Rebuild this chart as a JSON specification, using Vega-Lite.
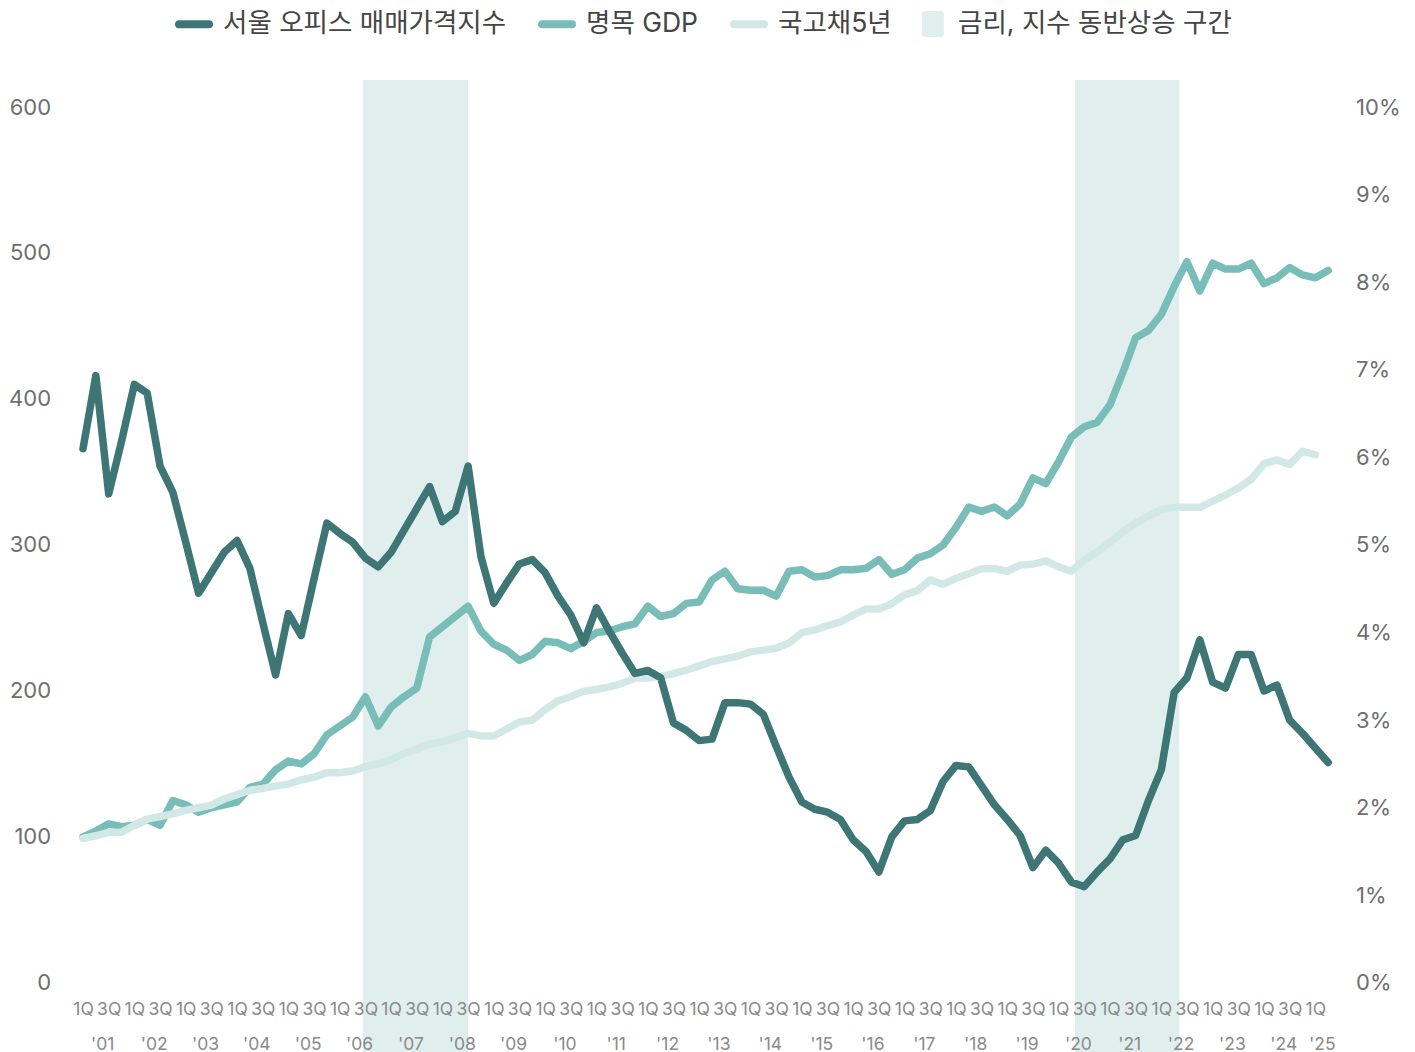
{
  "$schema": "https://vega.github.io/schema/vega-lite/v6.json",
  "autosize": {"type": "none"},
  "padding": {"left": 76.6, "top": 80, "right": 80.4, "bottom": 0},
  "width": 1258,
  "height": 972,
  "background": "#ffffff",
  "config": {
    "view": {"stroke": null},
    "font": "Inter, 'Noto Sans CJK KR', sans-serif",
    "axis": {"labelFont": "Inter, 'Noto Sans CJK KR', sans-serif", "grid": false, "ticks": false, "domain": false, "title": null},
    "legend": {"labelFont": "Inter, 'Noto Sans CJK KR', sans-serif"}
  },
  "datasets": {
    "bands": [
      {"start": 2006.45, "end": 2008.5},
      {"start": 2020.32, "end": 2022.35}
    ],
    "series": [
      {"t": 2001.00, "office": 366, "gdp": 100, "bond": 1.65},
      {"t": 2001.25, "office": 416, "gdp": 104, "bond": 1.68},
      {"t": 2001.50, "office": 335, "gdp": 109, "bond": 1.72},
      {"t": 2001.75, "office": 371, "gdp": 107, "bond": 1.72},
      {"t": 2002.00, "office": 410, "gdp": 108, "bond": 1.80},
      {"t": 2002.25, "office": 404, "gdp": 112, "bond": 1.87},
      {"t": 2002.50, "office": 354, "gdp": 108, "bond": 1.90},
      {"t": 2002.75, "office": 336, "gdp": 125, "bond": 1.93},
      {"t": 2003.00, "office": 302, "gdp": 122, "bond": 1.97},
      {"t": 2003.25, "office": 267, "gdp": 117, "bond": 2.00},
      {"t": 2003.50, "office": 281, "gdp": 120, "bond": 2.03},
      {"t": 2003.75, "office": 295, "gdp": 122, "bond": 2.10},
      {"t": 2004.00, "office": 303, "gdp": 124, "bond": 2.15},
      {"t": 2004.25, "office": 284, "gdp": 134, "bond": 2.20},
      {"t": 2004.50, "office": 247, "gdp": 136, "bond": 2.22},
      {"t": 2004.75, "office": 211, "gdp": 146, "bond": 2.25},
      {"t": 2005.00, "office": 253, "gdp": 152, "bond": 2.27},
      {"t": 2005.25, "office": 238, "gdp": 150, "bond": 2.32},
      {"t": 2005.50, "office": 277, "gdp": 157, "bond": 2.35},
      {"t": 2005.75, "office": 315, "gdp": 170, "bond": 2.40},
      {"t": 2006.00, "office": 308, "gdp": 176, "bond": 2.40},
      {"t": 2006.25, "office": 302, "gdp": 182, "bond": 2.42},
      {"t": 2006.50, "office": 291, "gdp": 196, "bond": 2.47},
      {"t": 2006.75, "office": 285, "gdp": 176, "bond": 2.50},
      {"t": 2007.00, "office": 295, "gdp": 189, "bond": 2.55},
      {"t": 2007.25, "office": 310, "gdp": 196, "bond": 2.62},
      {"t": 2007.50, "office": 325, "gdp": 202, "bond": 2.67},
      {"t": 2007.75, "office": 340, "gdp": 237, "bond": 2.73},
      {"t": 2008.00, "office": 316, "gdp": 244, "bond": 2.75},
      {"t": 2008.25, "office": 323, "gdp": 251, "bond": 2.80},
      {"t": 2008.50, "office": 354, "gdp": 258, "bond": 2.85},
      {"t": 2008.75, "office": 292, "gdp": 241, "bond": 2.82},
      {"t": 2009.00, "office": 260, "gdp": 232, "bond": 2.82},
      {"t": 2009.25, "office": 274, "gdp": 228, "bond": 2.90},
      {"t": 2009.50, "office": 287, "gdp": 221, "bond": 2.98},
      {"t": 2009.75, "office": 290, "gdp": 225, "bond": 3.00},
      {"t": 2010.00, "office": 281, "gdp": 234, "bond": 3.12},
      {"t": 2010.25, "office": 265, "gdp": 233, "bond": 3.22},
      {"t": 2010.50, "office": 252, "gdp": 229, "bond": 3.27},
      {"t": 2010.75, "office": 233, "gdp": 234, "bond": 3.33},
      {"t": 2011.00, "office": 257, "gdp": 240, "bond": 3.35},
      {"t": 2011.25, "office": 241, "gdp": 241, "bond": 3.38},
      {"t": 2011.50, "office": 226, "gdp": 244, "bond": 3.42},
      {"t": 2011.75, "office": 212, "gdp": 246, "bond": 3.48},
      {"t": 2012.00, "office": 214, "gdp": 258, "bond": 3.48},
      {"t": 2012.25, "office": 209, "gdp": 251, "bond": 3.50},
      {"t": 2012.50, "office": 178, "gdp": 253, "bond": 3.53},
      {"t": 2012.75, "office": 173, "gdp": 260, "bond": 3.57},
      {"t": 2013.00, "office": 166, "gdp": 261, "bond": 3.62},
      {"t": 2013.25, "office": 167, "gdp": 276, "bond": 3.67},
      {"t": 2013.50, "office": 192, "gdp": 282, "bond": 3.70},
      {"t": 2013.75, "office": 192, "gdp": 270, "bond": 3.73},
      {"t": 2014.00, "office": 191, "gdp": 269, "bond": 3.78},
      {"t": 2014.25, "office": 184, "gdp": 269, "bond": 3.80},
      {"t": 2014.50, "office": 162, "gdp": 265, "bond": 3.82},
      {"t": 2014.75, "office": 141, "gdp": 282, "bond": 3.88},
      {"t": 2015.00, "office": 124, "gdp": 283, "bond": 4.00},
      {"t": 2015.25, "office": 119, "gdp": 278, "bond": 4.03},
      {"t": 2015.50, "office": 117, "gdp": 279, "bond": 4.08},
      {"t": 2015.75, "office": 112, "gdp": 283, "bond": 4.12},
      {"t": 2016.00, "office": 98, "gdp": 283, "bond": 4.20},
      {"t": 2016.25, "office": 90, "gdp": 284, "bond": 4.27},
      {"t": 2016.50, "office": 76, "gdp": 290, "bond": 4.27},
      {"t": 2016.75, "office": 100, "gdp": 280, "bond": 4.33},
      {"t": 2017.00, "office": 111, "gdp": 283, "bond": 4.43},
      {"t": 2017.25, "office": 112, "gdp": 291, "bond": 4.48},
      {"t": 2017.50, "office": 118, "gdp": 294, "bond": 4.60},
      {"t": 2017.75, "office": 138, "gdp": 300, "bond": 4.55},
      {"t": 2018.00, "office": 149, "gdp": 312, "bond": 4.62},
      {"t": 2018.25, "office": 148, "gdp": 326, "bond": 4.67},
      {"t": 2018.50, "office": 135, "gdp": 323, "bond": 4.73},
      {"t": 2018.75, "office": 122, "gdp": 326, "bond": 4.73},
      {"t": 2019.00, "office": 112, "gdp": 320, "bond": 4.70},
      {"t": 2019.25, "office": 101, "gdp": 328, "bond": 4.77},
      {"t": 2019.50, "office": 79, "gdp": 346, "bond": 4.78},
      {"t": 2019.75, "office": 91, "gdp": 342, "bond": 4.82},
      {"t": 2020.00, "office": 82, "gdp": 357, "bond": 4.75},
      {"t": 2020.25, "office": 69, "gdp": 374, "bond": 4.70},
      {"t": 2020.50, "office": 66, "gdp": 381, "bond": 4.83},
      {"t": 2020.75, "office": 76, "gdp": 384, "bond": 4.92},
      {"t": 2021.00, "office": 85, "gdp": 396, "bond": 5.03},
      {"t": 2021.25, "office": 98, "gdp": 418, "bond": 5.15},
      {"t": 2021.50, "office": 101, "gdp": 442, "bond": 5.25},
      {"t": 2021.75, "office": 125, "gdp": 447, "bond": 5.33},
      {"t": 2022.00, "office": 146, "gdp": 458, "bond": 5.40},
      {"t": 2022.25, "office": 199, "gdp": 477, "bond": 5.43},
      {"t": 2022.50, "office": 209, "gdp": 494, "bond": 5.43},
      {"t": 2022.75, "office": 235, "gdp": 474, "bond": 5.43},
      {"t": 2023.00, "office": 206, "gdp": 493, "bond": 5.50},
      {"t": 2023.25, "office": 202, "gdp": 489, "bond": 5.57},
      {"t": 2023.50, "office": 225, "gdp": 489, "bond": 5.65},
      {"t": 2023.75, "office": 225, "gdp": 493, "bond": 5.75},
      {"t": 2024.00, "office": 200, "gdp": 479, "bond": 5.93},
      {"t": 2024.25, "office": 204, "gdp": 483, "bond": 5.97},
      {"t": 2024.50, "office": 180, "gdp": 490, "bond": 5.92},
      {"t": 2024.75, "office": 171, "gdp": 485, "bond": 6.07},
      {"t": 2025.00, "office": 161, "gdp": 483, "bond": 6.03},
      {"t": 2025.25, "office": 151, "gdp": 488, "bond": null}
    ]
  },
  "resolve": {"scale": {"y": "independent"}, "axis": {"x": "independent", "y": "independent"}},
  "layer": [
    {
      "data": {"name": "bands"},
      "mark": {"type": "rect", "opacity": 1},
      "encoding": {
        "x": {"field": "start", "type": "quantitative", "scale": {"domain": [2000.875, 2025.375], "nice": false, "zero": false}, "axis": null},
        "x2": {"field": "end"},
        "fill": {
          "datum": "금리, 지수 동반상승 구간",
          "type": "nominal",
          "scale": {"domain": ["금리, 지수 동반상승 구간"], "range": ["#e0eeed"]},
          "legend": {
            "title": null,
            "orient": "none",
            "direction": "horizontal",
            "legendX": 841.2,
            "legendY": -71,
            "padding": 0,
            "labelOffset": 10.25,
            "labelFontSize": 26.5,
            "labelColor": "#444444",
            "labelLimit": 400,
            "symbolType": "M-0.5,-0.867L0.5,-0.867Q0.733,-0.867 0.733,-0.634L0.733,0.634Q0.733,0.867 0.5,0.867L-0.5,0.867Q-0.733,0.867 -0.733,0.634L-0.733,-0.634Q-0.733,-0.867 -0.5,-0.867Z",
            "symbolSize": 900,
            "symbolStrokeWidth": 0,
            "symbolOpacity": 1
          }
        }
      }
    },
    {
      "data": {"name": "series"},
      "mark": {"type": "line", "strokeWidth": 7.5, "strokeJoin": "round", "strokeCap": "round"},
      "encoding": {
        "x": {
          "field": "t", "type": "quantitative",
          "axis": {
            "orient": "bottom",
            "offset": -52,
            "values": [2001, 2001.5, 2002, 2002.5, 2003, 2003.5, 2004, 2004.5, 2005, 2005.5, 2006, 2006.5, 2007, 2007.5, 2008, 2008.5, 2009, 2009.5, 2010, 2010.5, 2011, 2011.5, 2012, 2012.5, 2013, 2013.5, 2014, 2014.5, 2015, 2015.5, 2016, 2016.5, 2017, 2017.5, 2018, 2018.5, 2019, 2019.5, 2020, 2020.5, 2021, 2021.5, 2022, 2022.5, 2023, 2023.5, 2024, 2024.5, 2025],
            "labelExpr": "datum.value % 1 === 0 ? '1Q' : '3Q'",
            "labelFontSize": 17.5,
            "labelColor": "#8a8a8a",
            "labelPadding": 0,
            "labelBaseline": "top",
            "labelOverlap": false,
            "labelFlush": false,
            "labelBound": false,
            "zindex": 1,
            "title": null
          }
        },
        "y": {
          "field": "gdp", "type": "quantitative",
          "scale": {"domain": [-47.3, 618.5], "nice": false, "zero": false},
          "axis": {
            "orient": "left",
            "values": [0, 100, 200, 300, 400, 500, 600],
            "labelFontSize": 22,
            "labelColor": "#6e6e6e",
            "labelPadding": 26,
            "title": null
          }
        },
        "stroke": {
          "datum": "명목 GDP",
          "type": "nominal",
          "scale": {
            "domain": ["서울 오피스 매매가격지수", "명목 GDP", "국고채5년"],
            "range": ["#3d7674", "#79bdb9", "#d2e8e7"]
          },
          "legend": {
            "title": null,
            "orient": "none",
            "direction": "horizontal",
            "legendX": 99.4,
            "legendY": -74,
            "padding": 0,
            "columnPadding": 21,
            "labelOffset": 11,
            "labelFontSize": 26.5,
            "labelColor": "#444444",
            "labelLimit": 400,
            "symbolType": "M-1,-0.0667L1,-0.0667C1.0889,-0.0667 1.0889,0.0667 1,0.0667L-1,0.0667C-1.0889,0.0667 -1.0889,-0.0667 -1,-0.0667Z",
            "symbolSize": 900,
            "symbolStrokeWidth": 6,
            "symbolOpacity": 1
          }
        }
      }
    },
    {
      "data": {"name": "series"},
      "mark": {"type": "line", "strokeWidth": 7.5, "strokeJoin": "round", "strokeCap": "round"},
      "encoding": {
        "x": {"field": "t", "type": "quantitative", "axis": null},
        "y": {
          "field": "bond", "type": "quantitative",
          "scale": {"domain": [-0.7883, 10.3083], "nice": false, "zero": false},
          "axis": {
            "orient": "right",
            "values": [0, 1, 2, 3, 4, 5, 6, 7, 8, 9, 10],
            "labelExpr": "datum.value + '%'",
            "labelFontSize": 22,
            "labelColor": "#6e6e6e",
            "labelPadding": 21,
            "labelAlign": "left",
            "title": null
          }
        },
        "stroke": {"datum": "국고채5년", "type": "nominal"}
      }
    },
    {
      "data": {"name": "series"},
      "mark": {"type": "line", "strokeWidth": 7.5, "strokeJoin": "round", "strokeCap": "round"},
      "encoding": {
        "x": {
          "field": "t", "type": "quantitative",
          "axis": {
            "orient": "bottom",
            "offset": -17,
            "values": [2001.375, 2002.375, 2003.375, 2004.375, 2005.375, 2006.375, 2007.375, 2008.375, 2009.375, 2010.375, 2011.375, 2012.375, 2013.375, 2014.375, 2015.375, 2016.375, 2017.375, 2018.375, 2019.375, 2020.375, 2021.375, 2022.375, 2023.375, 2024.375, 2025.125],
            "labelExpr": "\"'\" + substring(toString(floor(datum.value)), 2, 4)",
            "labelFontSize": 17.5,
            "labelColor": "#8a8a8a",
            "labelPadding": 0,
            "labelBaseline": "top",
            "labelOverlap": false,
            "labelFlush": false,
            "labelBound": false,
            "zindex": 1,
            "title": null
          }
        },
        "y": {
          "field": "office", "type": "quantitative",
          "scale": {"domain": [-47.3, 618.5], "nice": false, "zero": false},
          "axis": null
        },
        "stroke": {"datum": "서울 오피스 매매가격지수", "type": "nominal"}
      }
    }
  ]
}
